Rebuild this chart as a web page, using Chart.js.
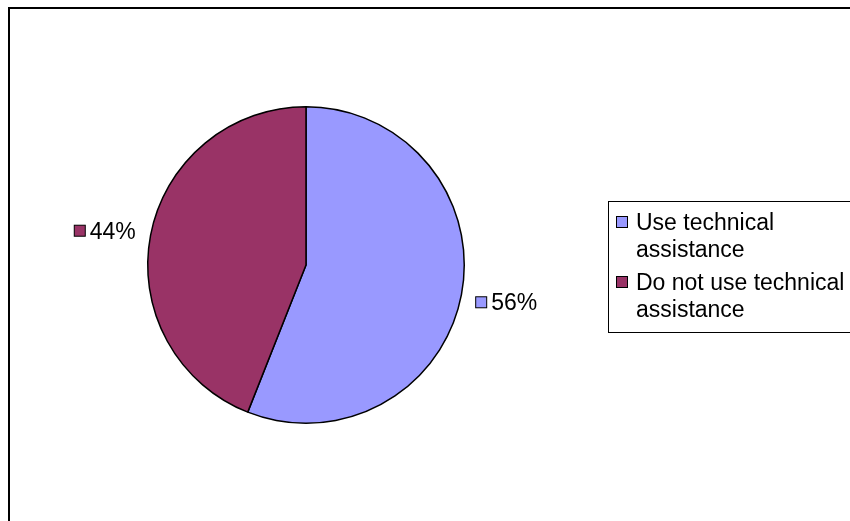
<!DOCTYPE html>
<html>
<head>
<meta charset="utf-8">
<script src="https://cdn.jsdelivr.net/npm/chart.js@4/dist/chart.umd.min.js"></script>
<style>
  html, body { margin: 0; padding: 0; background: #fff; }
  canvas { display: block; }
</style>
</head>
<body>
<canvas id="chart" width="850" height="521"></canvas>
<script>
const categories = ["Use technical assistance", "Do not use technical assistance"]
const legendLines = [["Use technical", "assistance"], ["Do not use technical", "assistance"]]
const shares = [56, 44]
const colors = ["#9999FF", "#993366"]

const FONT = "23px 'Liberation Sans', Arial, sans-serif"

// frame, legend box and outside percentage labels
const decorations = {
  id: "decorations",
  afterDraw(chart) {
    const ctx = chart.ctx
    ctx.save()

    // outer frame (runs off the right and bottom edge)
    ctx.strokeStyle = "#000"
    ctx.lineWidth = 2
    ctx.strokeRect(9, 8, 900, 600)

    ctx.font = FONT
    ctx.textBaseline = "alphabetic"
    ctx.lineWidth = 1

    // percentage labels next to each slice
    const arcs = chart.getDatasetMeta(0).data
    arcs.forEach((arc, i) => {
      const mid = (arc.startAngle + arc.endAngle) / 2
      const r = arc.outerRadius + 14
      const px = arc.x + Math.cos(mid) * r
      const py = arc.y + Math.sin(mid) * r + (Math.cos(mid) > 0 ? 5 : -2)
      const text = shares[i] + "%"
      const tw = ctx.measureText(text).width
      const total = 11 + 6 + tw
      const left = Math.cos(mid) >= 0 ? px : px - total
      ctx.fillStyle = colors[i]
      ctx.fillRect(left + 0.5, py - 5.5, 11, 11)
      ctx.strokeStyle = "#000"
      ctx.strokeRect(left + 0.5, py - 5.5, 11, 11)
      ctx.fillStyle = "#000"
      ctx.fillText(text, left + 16, py + 8)
    })

    // legend
    ctx.strokeStyle = "#000"
    ctx.strokeRect(608.5, 201.5, 300, 131)
    let y = 230
    legendLines.forEach((lines, i) => {
      ctx.fillStyle = colors[i]
      ctx.fillRect(616.5, y - 13.5, 11, 11)
      ctx.strokeRect(616.5, y - 13.5, 11, 11)
      ctx.fillStyle = "#000"
      lines.forEach((line, j) => {
        ctx.fillText(line, 636, y + j * 27)
      })
      y += 60
    })

    ctx.restore()
  }
}

new Chart(document.getElementById("chart"), {
  type: "pie",
  data: {
    labels: categories,
    datasets: [{
      data: shares,
      backgroundColor: colors,
      borderColor: "#000",
      borderWidth: 1.5,
      hoverOffset: 0
    }]
  },
  options: {
    responsive: false,
    animation: false,
    layout: {
      padding: { left: 147, right: 385, top: 106, bottom: 97 }
    },
    plugins: {
      legend: { display: false },
      tooltip: { enabled: false }
    }
  },
  plugins: [decorations]
})
</script>
</body>
</html>
